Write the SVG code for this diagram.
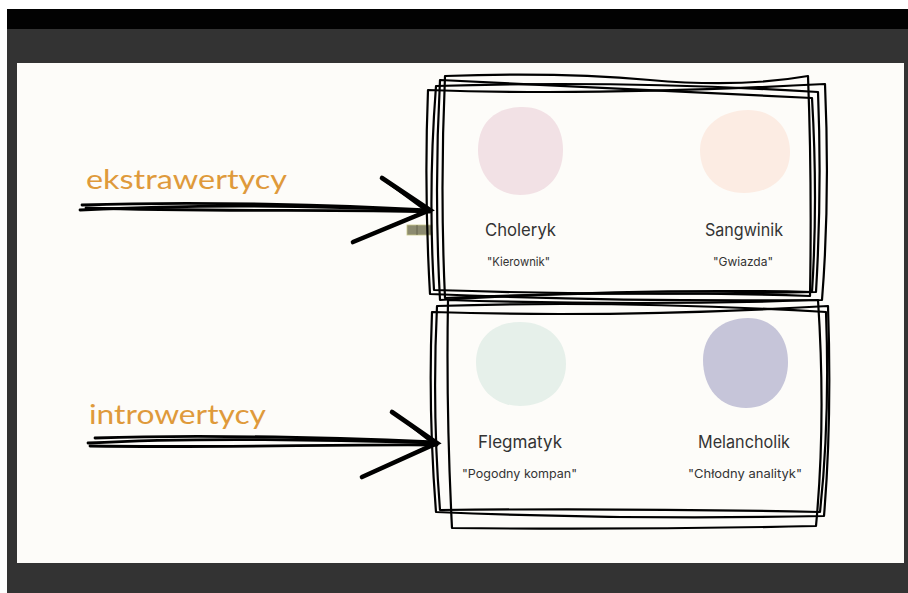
<svg xmlns="http://www.w3.org/2000/svg" width="908" height="593" viewBox="0 0 908 593">
<style>
.frame{fill:none;stroke:#000;stroke-width:2.2;stroke-linejoin:round}
.shaft{fill:none;stroke:#000;stroke-width:2.8;stroke-linecap:round}
.head{fill:none;stroke:#000;stroke-width:4.6;stroke-linecap:round;stroke-linejoin:miter}
.side{font-family:"Lato","Inter",sans-serif;font-size:27px;fill:#df9a3b}
.name{font-family:"Inter","Lato",sans-serif;font-size:17px;fill:#333}
.nick{font-family:"Inter","Lato",sans-serif;font-size:12px;fill:#333}
</style>
<rect width="908" height="593" fill="#ffffff"/>
<rect x="7" y="9" width="901" height="20" fill="#020202"/>
<rect x="7" y="29" width="901" height="564" fill="#333333"/>
<rect x="17" y="63" width="887" height="500" fill="#fdfcf9"/>
<rect x="407" y="225" width="25" height="10" fill="#8c8b70" stroke="#c9c98a" stroke-width="0.8"/>
<line x1="417" y1="225" x2="417" y2="235" stroke="#5d5c48" stroke-width="0.8"/>
<g id="connectors">
<g id="arrow-ekstrawertycy">
<path class="shaft" d="M80,210 C200,204 330,206 430,211"/>
<path class="shaft" d="M82,205 C200,201 340,205 428,210"/>
<path class="shaft" d="M86,208 C220,212 340,209 430,212"/>
<path class="head" d="M382,178 L430,210 L353,242"/>
<path class="shaft" d="M386,181 L427,211 L360,239"/>
</g>
<g id="arrow-introwertycy">
<path class="shaft" d="M88,443 C200,437 330,440 437,443"/>
<path class="shaft" d="M95,438 C210,434 340,438 435,442"/>
<path class="shaft" d="M90,446 C220,448 340,444 437,445"/>
<path class="head" d="M392,412 L437,443 L362,477"/>
<path class="shaft" d="M397,415 L434,444 L369,474"/>
</g>
</g>
<g id="label-ekstrawertycy"><text class="side" x="86" y="189" textLength="201" lengthAdjust="spacingAndGlyphs">ekstrawertycy</text></g>
<g id="label-introwertycy"><text class="side" x="89" y="424" textLength="177" lengthAdjust="spacingAndGlyphs">introwertycy</text></g>
<g id="box-ekstrawertycy">
<path class="frame" d="M436,86 Q620,80 818,92 Q822,190 816,292 Q620,296 434,290 Q428,190 436,86 Z"/>
<path class="frame" d="M445,76 Q560,72 650,80 Q740,88 808,76 Q812,180 810,296 Q620,290 445,298 Q440,190 445,76 Z"/>
<path class="frame" d="M428,90 Q600,96 825,84 Q830,200 822,300 Q620,302 430,294 Q424,190 428,90 Z"/>
<path class="frame" d="M440,80 Q630,90 812,98 Q818,200 812,292 Q630,288 440,300 Q434,190 440,80 Z"/>
</g>
<g id="box-introwertycy">
<path class="frame" d="M437,306 Q620,300 826,312 Q830,420 820,512 Q630,508 440,510 Q432,410 437,306 Z"/>
<path class="frame" d="M448,300 Q640,306 818,300 Q826,420 816,526 Q630,530 452,528 Q446,410 448,300 Z"/>
<path class="frame" d="M432,312 Q620,318 828,306 Q832,420 824,516 Q630,520 436,512 Q428,410 432,312 Z"/>
</g>
<g id="node-choleryk">
<path d="M520,107 C548,106 563,124 563,150 C563,178 545,195 520,195 C496,195 478,176 478,150 C478,124 494,108 520,107 Z" fill="#f2e1e5"/>
<text class="name" x="485" y="236" textLength="71" lengthAdjust="spacingAndGlyphs">Choleryk</text>
<text class="nick" x="487" y="266" textLength="63" lengthAdjust="spacingAndGlyphs">"Kierownik"</text>
</g>
<g id="node-sangwinik">
<path d="M748,110 C774,110 790,128 790,152 C790,178 770,193 744,193 C718,193 700,176 700,150 C700,126 722,110 748,110 Z" fill="#fcece3"/>
<text class="name" x="705" y="236" textLength="78" lengthAdjust="spacingAndGlyphs">Sangwinik</text>
<text class="nick" x="713" y="266" textLength="60" lengthAdjust="spacingAndGlyphs">"Gwiazda"</text>
</g>
<g id="node-flegmatyk">
<path d="M520,322 C548,322 566,340 566,364 C566,390 546,406 520,406 C494,406 476,388 476,362 C476,338 494,322 520,322 Z" fill="#e6f0ea"/>
<text class="name" x="478" y="448" textLength="84" lengthAdjust="spacingAndGlyphs">Flegmatyk</text>
<text class="nick" x="462" y="478" textLength="115" lengthAdjust="spacingAndGlyphs">"Pogodny kompan"</text>
</g>
<g id="node-melancholik">
<path d="M748,318 C772,318 788,336 788,362 C788,390 770,408 746,408 C720,408 703,388 703,360 C703,334 722,318 748,318 Z" fill="#c6c5d9"/>
<text class="name" x="698" y="448" textLength="92" lengthAdjust="spacingAndGlyphs">Melancholik</text>
<text class="nick" x="688" y="478" textLength="114" lengthAdjust="spacingAndGlyphs">"Chłodny analityk"</text>
</g>
</svg>
